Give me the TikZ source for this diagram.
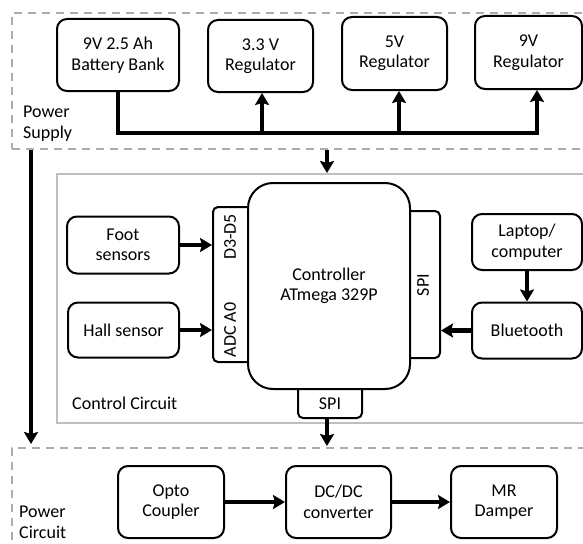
\documentclass[tikz,border=0pt]{standalone}
\usepackage{fontspec}
\setmainfont{Carlito}
\usetikzlibrary{arrows.meta}
\begin{document}
\begin{tikzpicture}[x=1pt,y=-1pt,
  every node/.style={font=\fontsize{18}{20.5}\selectfont, inner sep=0pt, align=center},
  blk/.style={draw=black, line width=2pt, rounded corners=10pt, fill=white},
  pin/.style={draw=black, line width=2pt, rounded corners=5pt, fill=white},
  flow/.style={line width=4.8pt, -{Stealth[length=12pt,width=14pt,inset=2pt]}},
  grp/.style={draw=gray!65, line width=2pt, dash pattern=on 8pt off 6pt},
  ctl/.style={draw=gray!50, line width=2pt},
  lbl/.style={anchor=west, align=left}]
\useasboundingbox (0,0) rectangle (583,543);
\clip (0,0) rectangle (583,543);

% group frames
\node[grp, minimum width=588pt, minimum height=136pt] (ps) at (306,81) {};
\node[ctl, minimum width=543pt, minimum height=249pt] (cc) at (328.5,298.5) {};
\node[grp, minimum width=588pt, minimum height=112pt] (pc) at (306,504) {};
\node[lbl] (pslab) at (23,123.5) {Power\\Supply};
\node[lbl] (cclab) at (72,403) {Control Circuit};
\node[lbl] (pclab) at (19,522.5) {Power\\Circuit};

% power supply
\node[blk, minimum width=122pt, minimum height=72pt] (bat) at (118,55) {9V 2.5 Ah\\Battery Bank};
\node[blk, minimum width=105pt, minimum height=72pt] (r33) at (260.5,56) {3.3 V\\Regulator};
\node[blk, minimum width=105pt, minimum height=73pt] (r5) at (394.5,53.5) {5V\\Regulator};
\node[blk, minimum width=107pt, minimum height=73pt] (r9) at (528.5,52.5) {9V\\Regulator};
\coordinate (b3) at (262,133);
\coordinate (b5) at (399,133);
\coordinate (b9) at (537,133);
\draw[flow, line join=miter] (bat.south) |- (b9) -- (b9 |- r9.south);
\draw[flow] (b3) -- (b3 |- r33.south);
\draw[flow] (b5) -- (b5 |- r5.south);

% controller
\node[pin, minimum width=47pt, minimum height=155pt] (lpin) at (236.5,284.5) {};
\node[pin, minimum width=42pt, minimum height=147pt] (rpin) at (419,284.5) {};
\node[pin, minimum width=64pt, minimum height=41pt] (bpin) at (330,397.5) {};
\node[draw=black, line width=2pt, rounded corners=25pt, fill=white, minimum width=162pt, minimum height=206pt] (ctrl) at (329,286) {Controller\\ATmega 329P};
\node[rotate=90] (d35) at (230,237) {D3-D5};
\node[rotate=90] (adc) at (230,330) {ADC A0};
\node[rotate=90] (spir) at (423,285) {SPI};
\node (spib) at (330,404) {SPI};

\node[blk, minimum width=112pt, minimum height=57pt] (foot) at (123,245) {Foot\\sensors};
\node[blk, minimum width=111pt, minimum height=55pt] (hall) at (123.5,330) {Hall sensor};
\node[blk, minimum width=110pt, minimum height=56pt] (lap) at (527,242) {Laptop/\\computer};
\node[blk, minimum width=110pt, minimum height=56pt] (bt) at (527,330.5) {Bluetooth};

\draw[flow] (foot.east) -- (foot.east -| lpin.west);
\draw[flow] (hall.east) -- (hall.east -| lpin.west);
\draw[flow] (lap.south) -- (bt.north);
\draw[flow] (bt.west) -- (bt.west -| rpin.east);

% between groups
\coordinate (tx) at (327,0);
\coordinate (lx) at (31,0);
\draw[flow] (ps.south -| tx) -- (cc.north -| tx);
\draw[flow] (ps.south -| lx) -- ([yshift=3pt]pc.north -| lx);
\draw[flow] (bpin.south -| tx) -- ([yshift=1pt]pc.north -| tx);

% power circuit
\node[blk, minimum width=106pt, minimum height=72pt] (opto) at (171,502) {Opto\\Coupler};
\node[blk, minimum width=105pt, minimum height=72pt] (dc) at (338.5,502) {DC/DC\\converter};
\node[blk, minimum width=106pt, minimum height=72pt] (mr) at (504,502) {MR\\Damper};
\draw[flow] (opto) -- (dc);
\draw[flow] (dc) -- (mr);
\end{tikzpicture}
\end{document}
